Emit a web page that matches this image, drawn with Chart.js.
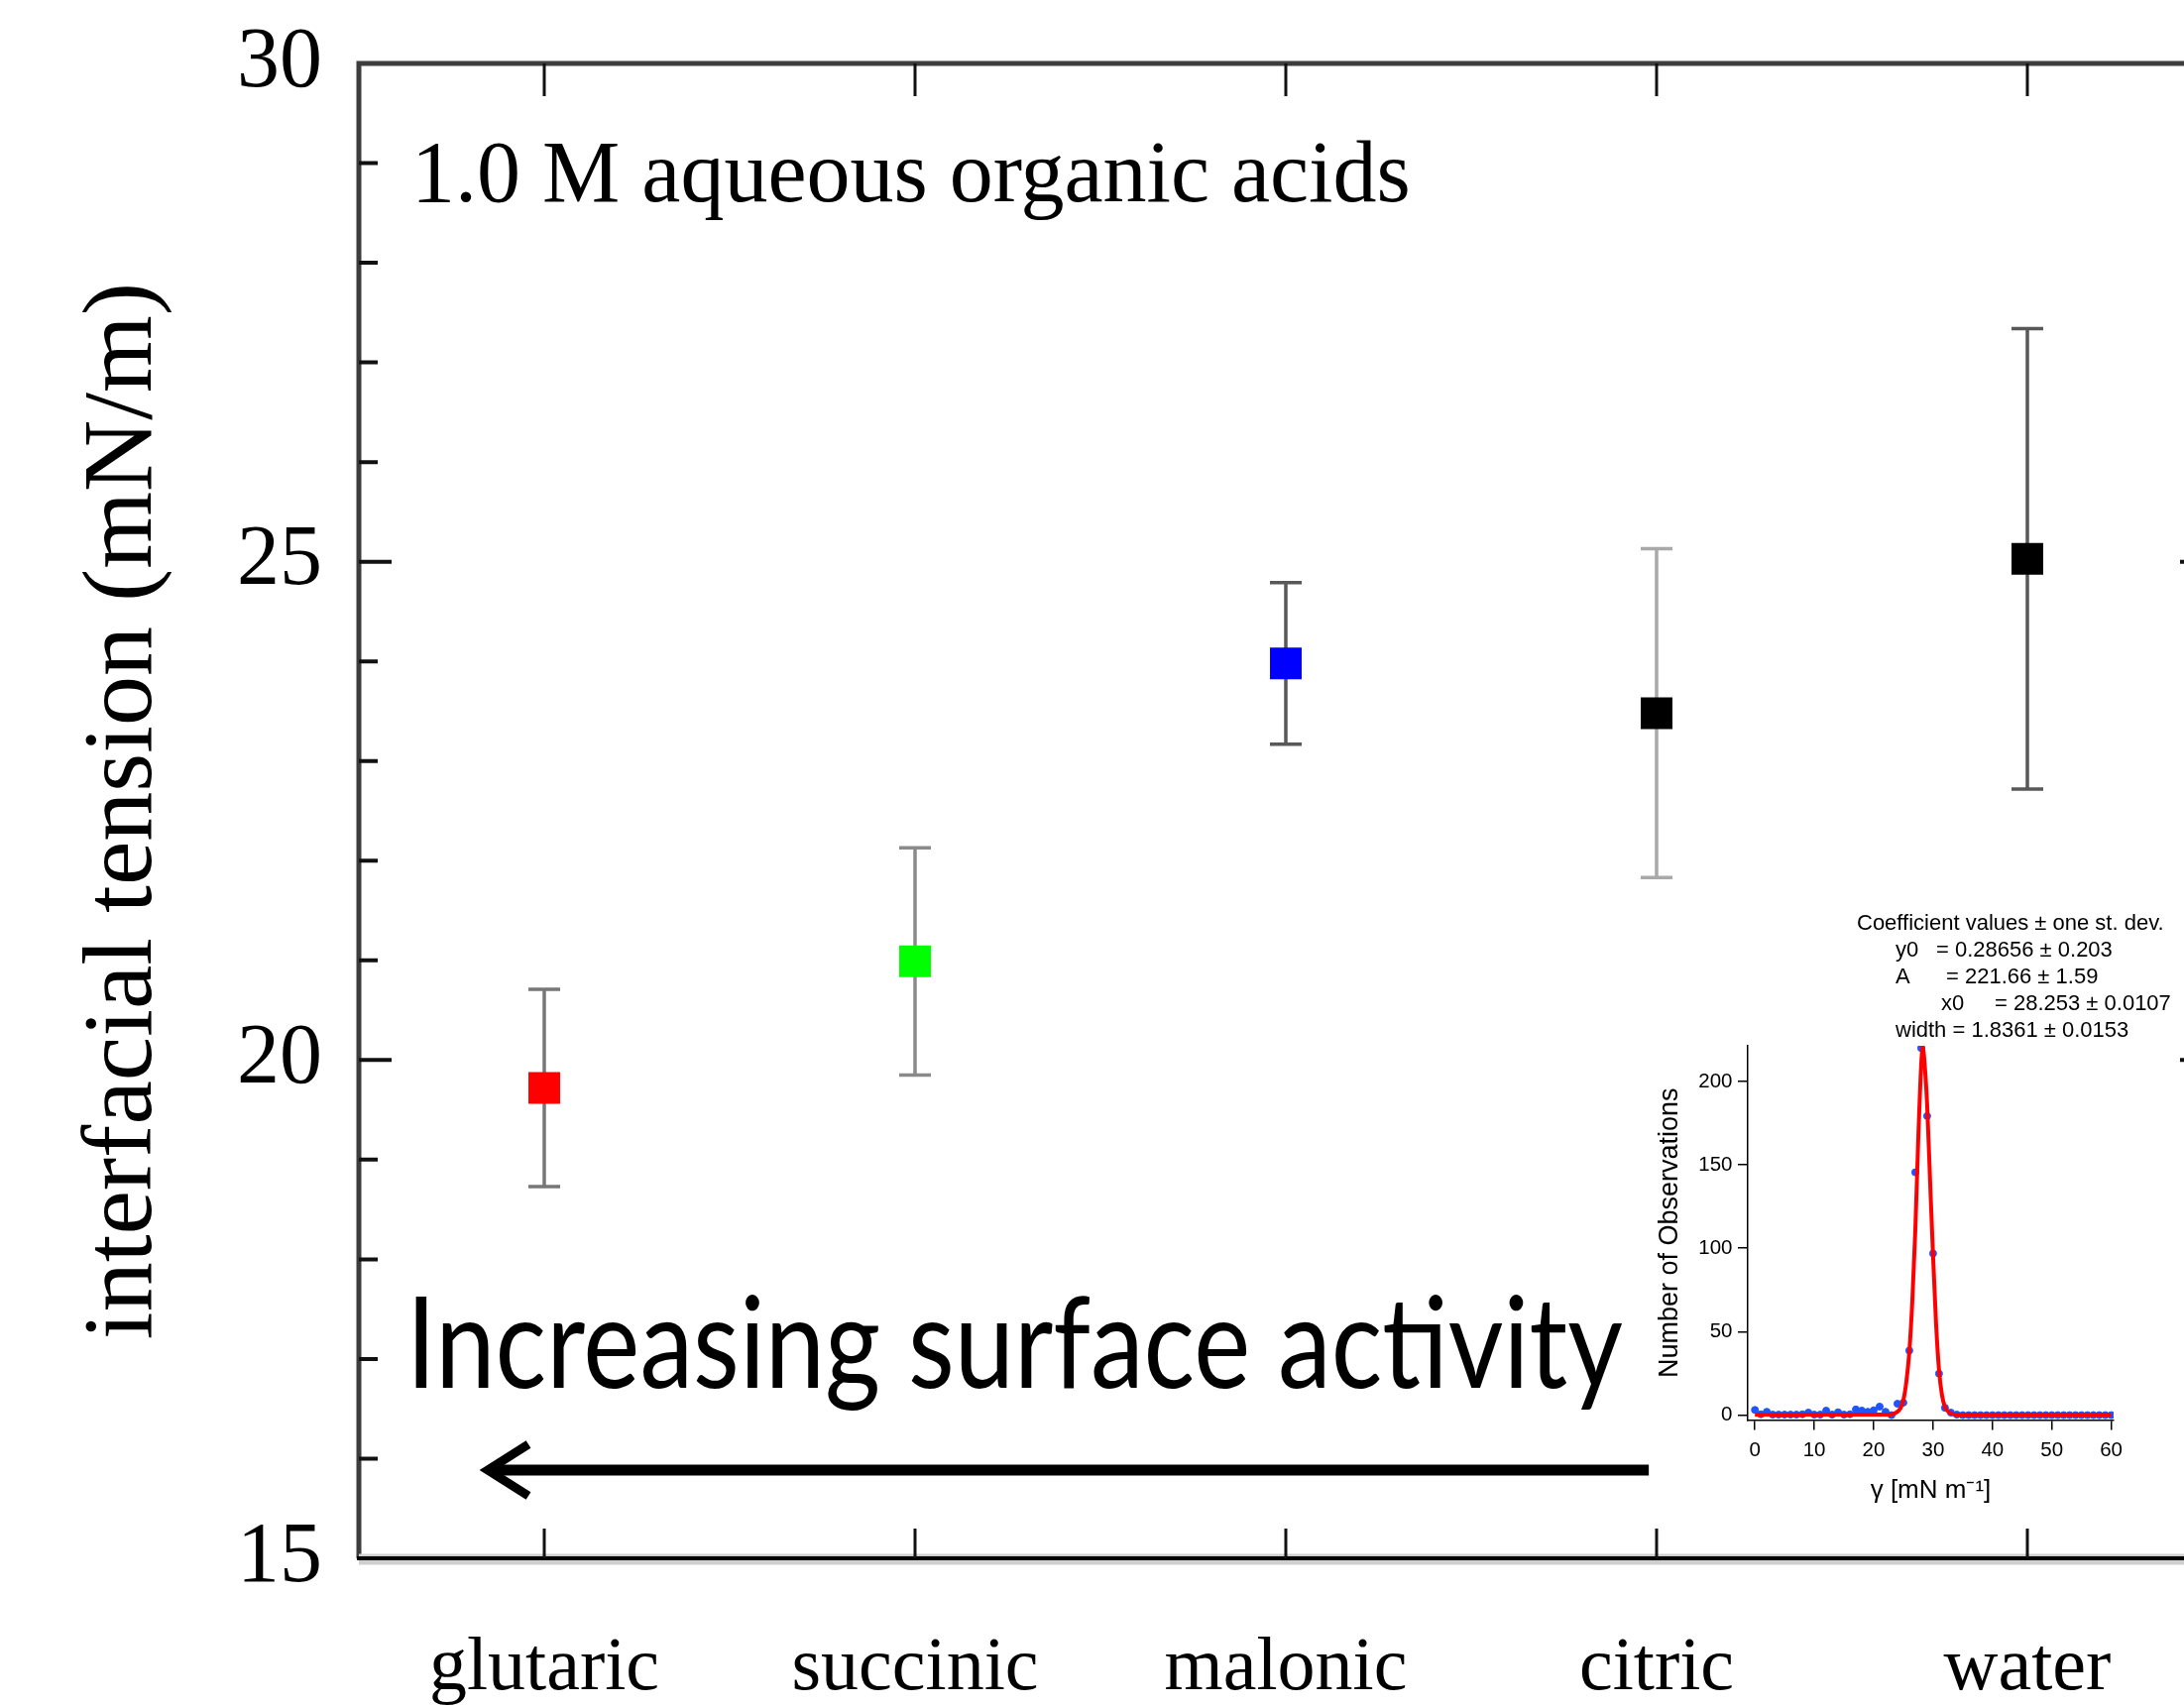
<!DOCTYPE html>
<html>
<head>
<meta charset="utf-8">
<title>interfacial tension</title>
<script src="https://cdn.jsdelivr.net/npm/chart.js@4.4.1/dist/chart.umd.min.js"></script>
<style>
  html, body { margin: 0; padding: 0; background: #fff; overflow: hidden; }
  #wrap { position: relative; width: 2203px; height: 1722px; overflow: hidden; }
  #main-wrap { position: absolute; left: 0; top: 0; }
  #inset-wrap { position: absolute; left: 1640px; top: 900px; }
</style>
</head>
<body>
<div id="wrap">
  <div id="main-wrap"><canvas id="main-chart" width="2240" height="1722"></canvas></div>
  <div id="inset-wrap"><canvas id="inset-chart" width="563" height="630"></canvas></div>
</div>
<script>
// main panel
const categories = ['glutaric', 'succinic', 'malonic', 'citric', 'water'];
const tension = [19.72, 20.99, 23.98, 23.48, 25.03];
const tensionErr = [0.99, 1.14, 0.81, 1.65, 2.31];
const pointColors = ['#ff0000', '#00ff00', '#0000ff', '#000000', '#000000'];
const errColors = ['#777777', '#8a8a8a', '#585858', '#a9a9a9', '#585858'];
const yTicks = [15, 20, 25, 30];

// inset: histogram of observations + gaussian fit
const histX = [0, 1, 2, 3, 4, 5, 6, 7, 8, 9, 10, 11, 12, 13, 14, 15, 16, 17, 18, 19, 20,
  21, 22, 23, 24, 25, 26, 27, 28, 29, 30, 31, 32, 33, 34, 35, 36, 37, 38, 39, 40,
  41, 42, 43, 44, 45, 46, 47, 48, 49, 50, 51, 52, 53, 54, 55, 56, 57, 58, 59, 60];
const histCounts = [3.1, 0.5, 2, 0.3, 0.3, 0.3, 0.3, 0.3, 0.5, 1.5, 0.3, 0.3, 2.7, 0.3, 1.7, 0.3, 0.5, 3.4, 2.7, 2, 2.9,
  5.1, 2, 0, 6.8, 7.5, 38.7, 145.5, 219.9, 179.2, 96.9, 24.9, 4.4, 1.5, 0.3, 0, 0, 0, 0, 0, 0,
  0, 0, 0, 0, 0, 0, 0, 0, 0, 0, 0, 0, 0, 0, 0, 0, 0, 0, 0, 0];
const fitX = [0, 22.5, 23.5, 24.5, 25, 25.5, 26, 26.5, 27, 27.5, 28, 28.25, 28.5, 29, 29.5, 30, 30.5, 31, 31.5, 32, 33, 34, 60];
const fitY = [0.3, 0.3, 1, 4, 9, 20, 38, 68, 110, 165, 210, 221.5, 214, 186, 140, 95, 55, 27, 12, 5, 1, 0.3, 0.3];
const insetXTicks = [0, 10, 20, 30, 40, 50, 60];
const insetYTicks = [0, 50, 100, 150, 200];
const coefLines = [
  ['Coefficient values ± one st. dev.', ''],
  ['y0', '= 0.28656 ± 0.203'],
  ['A', '= 221.66 ± 1.59'],
  ['x0', '= 28.253 ± 0.0107'],
  ['width = 1.8361 ± 0.0153', ''],
];

const SERIF = '"Liberation Serif", "Times New Roman", serif';
const SANS = '"Liberation Sans", Arial, sans-serif';

function noPad(s) { s.paddingTop = 0; s.paddingBottom = 0; s.paddingLeft = 0; s.paddingRight = 0; }

// ───── main chart decorations ─────
const frame = {
  id: 'frame',
  beforeDatasetsDraw(chart) {
    const { ctx, scales: { x, y } } = chart;
    ctx.save();
    ctx.lineWidth = 3.5;
    tension.forEach((v, i) => {
      const px = x.getPixelForValue(i);
      const top = y.getPixelForValue(v + tensionErr[i]);
      const bot = y.getPixelForValue(v - tensionErr[i]);
      ctx.strokeStyle = errColors[i];
      ctx.beginPath();
      ctx.moveTo(px, top); ctx.lineTo(px, bot);
      ctx.moveTo(px - 16, top); ctx.lineTo(px + 16, top);
      ctx.moveTo(px - 16, bot); ctx.lineTo(px + 16, bot);
      ctx.stroke();
    });
    ctx.restore();
  },
  afterDraw(chart) {
    const { ctx, chartArea: a, scales: { x, y } } = chart;
    ctx.save();
    // box
    ctx.strokeStyle = '#3d3d3d';
    ctx.lineWidth = 5;
    ctx.beginPath();
    ctx.moveTo(a.left, a.bottom); ctx.lineTo(a.left, a.top); ctx.lineTo(a.right, a.top); ctx.lineTo(a.right, a.bottom);
    ctx.stroke();
    ctx.strokeStyle = '#cfcfcf';
    ctx.lineWidth = 11;
    ctx.beginPath(); ctx.moveTo(a.left, a.bottom + 1); ctx.lineTo(a.right, a.bottom + 1); ctx.stroke();
    ctx.strokeStyle = '#000';
    ctx.lineWidth = 4;
    ctx.beginPath(); ctx.moveTo(a.left - 2, a.bottom); ctx.lineTo(a.right, a.bottom); ctx.stroke();

    // y ticks, every 1 mN/m, inward
    ctx.strokeStyle = '#111';
    ctx.lineWidth = 4;
    for (let v = 16; v <= 29; v++) {
      const py = y.getPixelForValue(v);
      const len = v % 5 === 0 ? 33 : 19;
      ctx.beginPath();
      ctx.moveTo(a.left, py); ctx.lineTo(a.left + len, py);
      ctx.moveTo(a.right, py); ctx.lineTo(a.right - len, py);
      ctx.stroke();
    }
    // x ticks, top and bottom
    ctx.lineWidth = 3;
    categories.forEach((c, i) => {
      const px = x.getPixelForValue(i);
      ctx.beginPath();
      ctx.moveTo(px, a.top); ctx.lineTo(px, a.top + 33);
      ctx.moveTo(px, a.bottom); ctx.lineTo(px, a.bottom - 30);
      ctx.stroke();
    });

    // label inside the plot
    ctx.fillStyle = '#000';
    ctx.textBaseline = 'alphabetic';
    ctx.textAlign = 'left';
    ctx.font = '88px ' + SERIF;
    ctx.fillText('1.0 M aqueous organic acids', x.getPixelForValue(-0.358), y.getPixelForValue(28.62));

    // "Increasing surface activity" (narrow sans)
    const txt = 'Increasing surface activity';
    ctx.font = '128px Lato, "Open Sans", sans-serif';
    const tw = ctx.measureText(txt).width;
    const tx0 = x.getPixelForValue(-0.372), tx1 = x.getPixelForValue(2.909);
    ctx.save();
    ctx.translate(tx0, y.getPixelForValue(16.71));
    ctx.scale((tx1 - tx0) / tw, 1);
    ctx.fillText(txt, 0, 0);
    ctx.restore();

    // arrow
    const ay = y.getPixelForValue(15.885);
    const tip = x.getPixelForValue(-0.163);
    const tail = x.getPixelForValue(2.979);
    ctx.strokeStyle = '#000';
    ctx.lineWidth = 11;
    ctx.lineCap = 'butt';
    ctx.beginPath(); ctx.moveTo(tail, ay); ctx.lineTo(tip + 6, ay); ctx.stroke();
    ctx.lineWidth = 9;
    ctx.lineJoin = 'miter';
    ctx.beginPath();
    ctx.moveTo(tip + 45, ay - 26); ctx.lineTo(tip + 4, ay); ctx.lineTo(tip + 45, ay + 26);
    ctx.stroke();
    ctx.restore();
  }
};

new Chart(document.getElementById('main-chart'), {
  type: 'scatter',
  plugins: [frame],
  data: {
    datasets: [{
      data: tension.map((v, i) => ({ x: i, y: v })),
      pointStyle: 'rect',
      pointRadius: 22.6,
      pointHoverRadius: 22.6,
      borderWidth: 0,
      backgroundColor: pointColors,
    }]
  },
  options: {
    responsive: false,
    animation: false,
    layout: { autoPadding: false, padding: { top: 64, right: 8, left: 0, bottom: 0 } },
    plugins: { legend: { display: false }, tooltip: { enabled: false } },
    scales: {
      x: {
        type: 'linear', min: -0.5, max: 4.5,
        afterBuildTicks: s => { s.ticks = categories.map((c, i) => ({ value: i })); },
        afterFit: s => { s.height = 150; noPad(s); },
        grid: { display: false, drawTicks: false },
        border: { display: false },
        ticks: {
          padding: 74, color: '#000', maxRotation: 0, autoSkip: false,
          font: { family: SERIF, size: 76, lineHeight: 1 },
          callback: v => categories[v] ?? ''
        }
      },
      y: {
        min: 15, max: 30,
        afterBuildTicks: s => { s.ticks = yTicks.map(v => ({ value: v })); },
        afterFit: s => { s.width = 362; noPad(s); },
        grid: { display: false, drawTicks: false },
        border: { display: false },
        ticks: { padding: 37, color: '#000', font: { family: SERIF, size: 86, lineHeight: 1 } },
        title: {
          display: true, text: 'interfacial tension (mN/m)', color: '#000',
          font: { family: SERIF, size: 100, lineHeight: 1.2 },
          padding: { top: 66, bottom: 0 }
        }
      }
    }
  }
});

// ───── inset ─────
const coefText = {
  id: 'coefText',
  afterDraw(chart) {
    const ctx = chart.ctx;
    ctx.save();
    ctx.fillStyle = '#000';
    ctx.font = '22px ' + SANS;
    ctx.textBaseline = 'middle';
    ctx.textAlign = 'left';
    const spots = [[233, 0, 32], [272, 313, 59], [272, 323, 86], [318, 372, 113], [272, 0, 140]];
    coefLines.forEach((ln, i) => {
      const [lx, rx, ly] = spots[i];
      ctx.fillText(ln[0], lx, ly);
      if (ln[1]) ctx.fillText(ln[1], rx, ly);
    });
    ctx.restore();
  }
};

const insetAxis = (extra) => Object.assign({
  grid: { display: true, drawOnChartArea: false, drawTicks: true, tickLength: 10, color: '#000', lineWidth: 1.5 },
  border: { display: true, color: '#000', width: 1.5 },
}, extra);

new Chart(document.getElementById('inset-chart'), {
  type: 'scatter',
  plugins: [coefText],
  data: {
    datasets: [
      {
        type: 'line',
        data: fitX.map((v, i) => ({ x: v, y: fitY[i] })),
        borderColor: '#ff0000', borderWidth: 4, pointRadius: 0,
        cubicInterpolationMode: 'monotone', order: 0
      },
      {
        data: histX.map((v, i) => ({ x: v, y: histCounts[i] })),
        backgroundColor: '#1f55ff', borderColor: '#1f55ff', borderWidth: 1,
        pointRadius: 3.5, order: 1
      }
    ]
  },
  options: {
    responsive: false,
    animation: false,
    layout: { autoPadding: false, padding: { top: 155, right: 71, left: 0, bottom: 0 } },
    plugins: { legend: { display: false }, tooltip: { enabled: false } },
    scales: {
      x: insetAxis({
        type: 'linear', min: -1.2, max: 60.4,
        afterBuildTicks: s => { s.ticks = insetXTicks.map(v => ({ value: v })); },
        afterFit: s => { s.height = 97.4; noPad(s); },
        ticks: { padding: 10, color: '#000', maxRotation: 0, font: { family: SANS, size: 20.5, lineHeight: 1 } },
        title: {
          display: true, text: 'γ [mN m⁻¹]', color: '#000',
          font: { family: SANS, size: 26, lineHeight: 1.2 },
          padding: { top: 0, bottom: 10.4 }
        }
      }),
      y: insetAxis({
        min: -3.0, max: 221.3,
        afterBuildTicks: s => { s.ticks = insetYTicks.map(v => ({ value: v })); },
        afterFit: s => { s.width = 123; noPad(s); },
        ticks: { padding: 5.5, color: '#000', font: { family: SANS, size: 20.5, lineHeight: 1 } },
        title: {
          display: true, text: 'Number of Observations', color: '#000',
          font: { family: SANS, size: 27, lineHeight: 1.2 },
          padding: { top: 28.8, bottom: 0 }
        }
      })
    }
  }
});
</script>
</body>
</html>
